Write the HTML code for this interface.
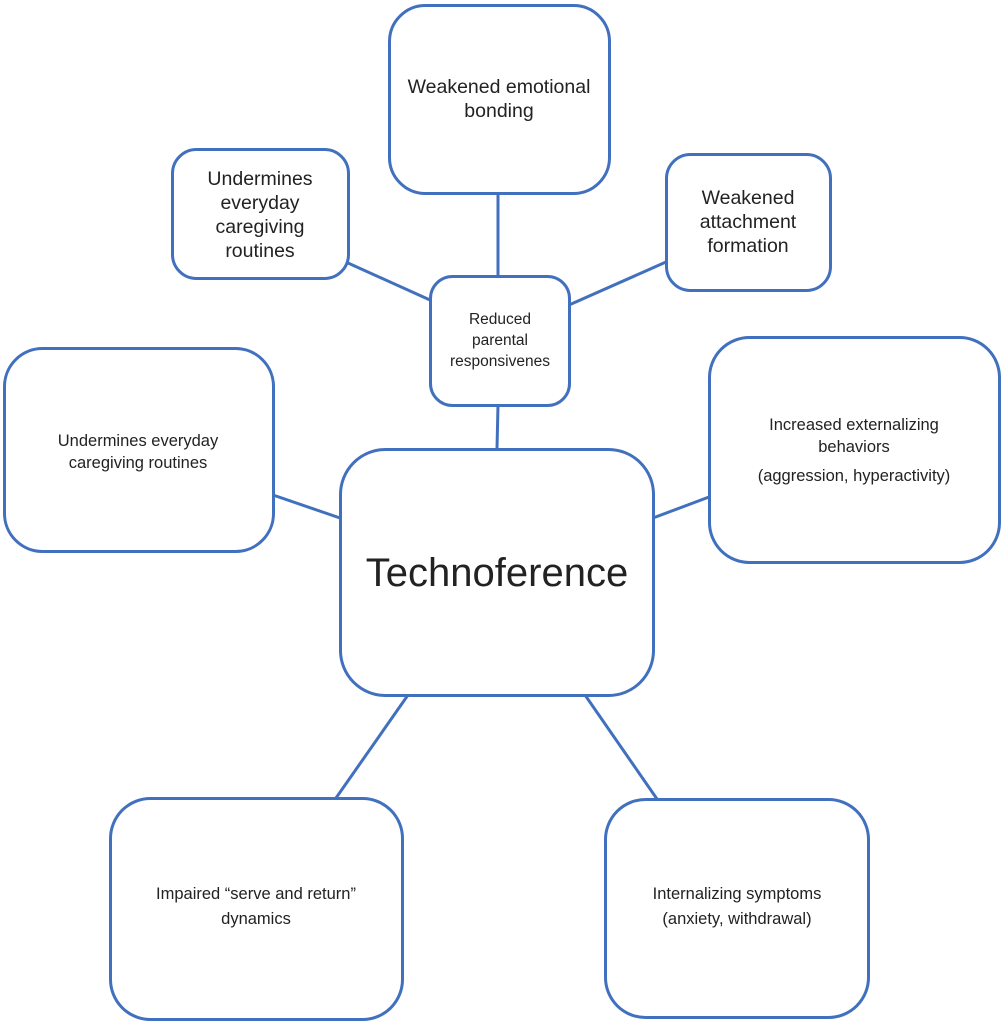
<!DOCTYPE html>
<html><head><meta charset="utf-8"><style>
html,body{margin:0;padding:0;background:#fff;}
svg{display:block}
text{font-family:"Liberation Sans",sans-serif;fill:#222;text-anchor:middle}
</style></head><body>
<svg width="1004" height="1024" viewBox="0 0 1004 1024">
<g stroke="#4170BE" stroke-width="3" fill="none">
<line x1="498" y1="193" x2="498" y2="276"/>
<line x1="348" y1="263" x2="430" y2="300"/>
<line x1="569" y1="305" x2="666" y2="262"/>
<line x1="498" y1="405" x2="497" y2="449"/>
<line x1="273" y1="495" x2="340" y2="518"/>
<line x1="653" y1="518" x2="709" y2="497"/>
<line x1="408" y1="695" x2="336" y2="798"/>
<line x1="585" y1="695" x2="657" y2="799"/>
<g fill="#fff">
<rect x="389.5" y="5.5" width="220" height="188" rx="36"/>
<rect x="172.5" y="149.5" width="176" height="129" rx="24"/>
<rect x="666.5" y="154.5" width="164" height="136" rx="24"/>
<rect x="430.5" y="276.5" width="139" height="129" rx="22"/>
<rect x="4.5" y="348.5" width="269" height="203" rx="38"/>
<rect x="709.5" y="337.5" width="290" height="225" rx="40"/>
<rect x="340.5" y="449.5" width="313" height="246" rx="45"/>
<rect x="110.5" y="798.5" width="292" height="221" rx="40"/>
<rect x="605.5" y="799.5" width="263" height="218" rx="40"/>
</g></g>
<g font-size="19.5">
<text x="499" y="93">Weakened emotional</text>
<text x="499" y="117">bonding</text>
<text x="260" y="185">Undermines</text>
<text x="260" y="209">everyday</text>
<text x="260" y="233">caregiving</text>
<text x="260" y="257">routines</text>
<text x="748" y="204">Weakened</text>
<text x="748" y="228">attachment</text>
<text x="748" y="252">formation</text>
</g>
<g font-size="15.5">
<text x="500" y="324">Reduced</text>
<text x="500" y="345">parental</text>
<text x="500" y="366">responsivenes</text>
</g>
<g font-size="16.5">
<text x="138" y="446">Undermines everyday</text>
<text x="138" y="468">caregiving routines</text>
<text x="854" y="430">Increased externalizing</text>
<text x="854" y="452">behaviors</text>
<text x="854" y="481">(aggression, hyperactivity)</text>
<text x="256" y="899">Impaired “serve and return”</text>
<text x="256" y="924">dynamics</text>
<text x="737" y="899">Internalizing symptoms</text>
<text x="737" y="924">(anxiety, withdrawal)</text>
</g>
<text x="497" y="586" font-size="40">Technoference</text>
</svg>
</body></html>
